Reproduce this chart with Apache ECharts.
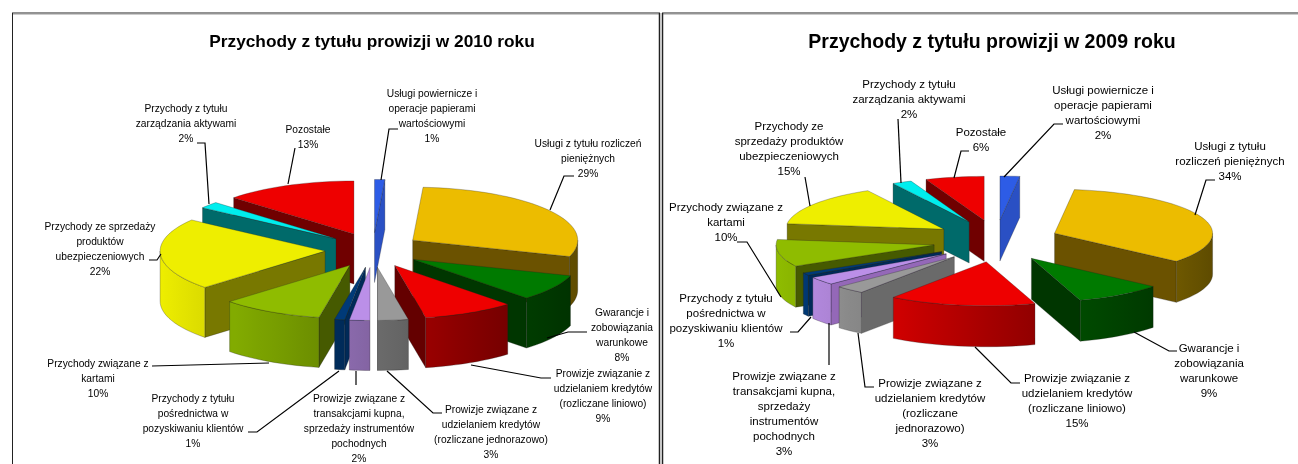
<!DOCTYPE html>
<html>
<head>
<meta charset="utf-8">
<title>Przychody z tytułu prowizji</title>
<style>
html,body{margin:0;padding:0;background:#fff;}
#chart{width:1298px;height:464px;}
</style>
<script src="https://cdn.jsdelivr.net/npm/echarts@6/dist/echarts.min.js"></script>
</head>
<body>
<div id="chart"></div>
<script>
// dane - kolejnosc jak na wykresie, zgodnie z ruchem wskazowek od gory
var values2010=[1,29,8,9,3,2,1,10,22,2,13];
var values2009=[2,34,9,15,3,3,1,10,15,2,6];
var names2010=[
	'Usługi powiernicze i\noperacje papierami\nwartościowymi',
	'Usługi z tytułu rozliczeń\npieniężnych',
	'Gwarancje i\nzobowiązania\nwarunkowe',
	'Prowizje związanie z\nudzielaniem kredytów\n(rozliczane liniowo)',
	'Prowizje związane z\nudzielaniem kredytów\n(rozliczane jednorazowo)',
	'Prowizje związane z\ntransakcjami kupna,\nsprzedaży instrumentów\npochodnych',
	'Przychody z tytułu\npośrednictwa w\npozyskiwaniu klientów',
	'Przychody związane z\nkartami',
	'Przychody ze sprzedaży\nproduktów\nubezpieczeniowych',
	'Przychody z tytułu\nzarządzania aktywami',
	'Pozostałe'
];
var names2009=[
	'Usługi powiernicze i\noperacje papierami\nwartościowymi',
	'Usługi z tytułu\nrozliczeń pieniężnych',
	'Gwarancje i\nzobowiązania\nwarunkowe',
	'Prowizje związanie z\nudzielaniem kredytów\n(rozliczane liniowo)',
	'Prowizje związane z\nudzielaniem kredytów\n(rozliczane\njednorazowo)',
	'Prowizje związane z\ntransakcjami kupna,\nsprzedaży\ninstrumentów\npochodnych',
	'Przychody z tytułu\npośrednictwa w\npozyskiwaniu klientów',
	'Przychody związane z\nkartami',
	'Przychody ze\nsprzedaży produktów\nubezpieczeniowych',
	'Przychody z tytułu\nzarządzania aktywami',
	'Pozostałe'
];
var titles=['Przychody z tytułu prowizji w 2010 roku','Przychody z tytułu prowizji w 2009 roku'];
// [gora, sciana radialna]
var colors=[
	['#2d5ce6','#2a50c4'],
	['#ecbc00','#6b5200'],
	['#007a00','#003600'],
	['#ee0000','#640000'],
	['#999999','#6a6a6a'],
	['#bb8fe8','#9468b8'],
	['#003a78','#002a58'],
	['#8fbc00','#465a00'],
	['#eeee00','#787800'],
	['#00eeee','#006a6a'],
	['#ee0000','#700000']
];

// uklad: srodek, promienie elipsy, wysokosc, wysuniecie wycinkow
var pie2010={cx:373,cy:250,rx:165,ry:53,h:50,ex:48,ey:17.5};
var pie2009={cx:996,cy:241,rx:158,ry:44,h:41,ex:63,ey:21};
// opisy: srodek tekstu, gora tekstu, linia odniesienia
var labels2010=[
	[432,86,[[398,129],[389,129],[381,180]]],
	[588,136,[[574,176],[564,176],[550,210]]],
	[622,305,[[587,332],[568,332],[547,338]]],
	[603,366,[[551,378],[541,378],[471,365]]],
	[491,402,[[442,413],[433,413],[387,371]]],
	[359,391,[[356,385],[356,371]]],
	[193,391,[[248,432],[257,432],[339,371]]],
	[98,356,[[152,366],[269,363]]],
	[100,219,[[149,260],[157,260],[161,254]]],
	[186,101,[[197,143],[205,143],[209,204]]],
	[308,122,[[295,148],[288,184]]]
];
var labels2009=[
	[1103,83,[[1063,124],[1054,124],[1004,177]]],
	[1230,139,[[1215,180],[1206,180],[1195,215]]],
	[1209,341,[[1177,351],[1169,351],[1134,332]]],
	[1077,371,[[1020,383],[1011,383],[975,347]]],
	[930,376,[[874,387],[865,387],[858,333]]],
	[784,369,[[829,365],[829,323]]],
	[726,291,[[790,332],[798,332],[811,317]]],
	[726,200,[[737,242],[747,242],[781,297]]],
	[789,119,[[805,177],[810,206]]],
	[909,77,[[898,119],[901,183]]],
	[981,125,[[969,151],[961,151],[954,178]]]
];

var dom=echarts.init(document.getElementById('chart'));

function shade(hex,k){
	var n=parseInt(hex.slice(1),16);
	var r=Math.min(255,Math.round((n>>16&255)*k)),g=Math.min(255,Math.round((n>>8&255)*k)),b=Math.min(255,Math.round((n&255)*k));
	return 'rgb('+r+','+g+','+b+')';
}
// katy wycinkow policzone z wartosci
function slices(vals){
	var sum=0,arr=[],a=0;
	vals.forEach(function(v){sum+=v;});
	vals.forEach(function(v,i){
		var b=a+v/sum*Math.PI*2;
		arr.push({i:i,a:a,b:b,m:(a+b)/2});
		a=b;
	});
	return arr;
}
function pt(p,ax,ay,t){
	return [ax+p.rx*Math.sin(t),ay-p.ry*Math.cos(t)];
}
// oswietlenie sciany zewnetrznej - jasno z lewej, ciemno z prawej
function light(t){
	return 0.7-0.3*Math.sin(t);
}
function wall(p1,p2,h){
	return [p1,p2,[p2[0],p2[1]+h],[p1[0],p1[1]+h]];
}
var edge={stroke:'rgba(30,30,30,0.55)',lineWidth:0.5};

function pieItem(p,s){
	var ax=p.cx+p.ex*Math.sin(s.m),ay=p.cy-p.ey*Math.cos(s.m);
	var c=colors[s.i],kids=[],A=[ax,ay];
	var top=[A],steps=Math.max(4,Math.ceil((s.b-s.a)/0.05)),k;
	for(k=0;k<=steps;k++){
		top.push(pt(p,ax,ay,s.a+(s.b-s.a)*k/steps));
	}
	var M=pt(p,ax,ay,s.m);
	// sciany radialne - tylko te zwrocone do widza
	[top[1],top[top.length-1]].forEach(function(P){
		var dx=P[0]-ax,dy=P[1]-ay,nx=-dy,ny=dx;
		if(nx*(M[0]-ax)+ny*(M[1]-ay)>0){nx=-nx;ny=-ny;}
		if(ny>0){
			kids.push({type:'polygon',shape:{points:wall(A,P,p.h)},style:{fill:c[1],stroke:edge.stroke,lineWidth:edge.lineWidth}});
		}
	});
	// sciana zewnetrzna
	var a1=Math.max(s.a,Math.PI/2),a2=Math.min(s.b,Math.PI*3/2);
	if(a2>a1){
		var up=[],down=[],stops=[],x0=1e9,x1=-1e9,n=Math.max(4,Math.ceil((a2-a1)/0.05));
		for(k=0;k<=n;k++){
			var t=a1+(a2-a1)*k/n,q=pt(p,ax,ay,t);
			up.push(q);down.unshift([q[0],q[1]+p.h]);
			x0=Math.min(x0,q[0]);x1=Math.max(x1,q[0]);
		}
		for(k=0;k<=n;k+=Math.max(1,Math.floor(n/6))){
			var t2=a1+(a2-a1)*k/n,q2=pt(p,ax,ay,t2);
			stops.push({offset:x1>x0?(q2[0]-x0)/(x1-x0):0,color:shade(c[0],light(t2))});
		}
		stops.sort(function(u,v){return u.offset-v.offset;});
		kids.push({type:'polygon',shape:{points:up.concat(down)},style:{
			fill:new echarts.graphic.LinearGradient(0,0,1,0,stops),stroke:edge.stroke,lineWidth:edge.lineWidth
		}});
	}
	kids.push({type:'polygon',shape:{points:top},style:{fill:c[0],stroke:edge.stroke,lineWidth:edge.lineWidth}});
	return {type:'group',children:kids};
}

function pieSeries(vals,p){
	var arr=slices(vals);
	// od tylu do przodu
	arr.sort(function(u,v){return Math.cos(v.m)-Math.cos(u.m);});
	return {
		type:'custom',
		coordinateSystem:'none',
		silent:true,
		z:2,
		data:arr.map(function(s){return vals[s.i];}),
		renderItem:function(params){
			return pieItem(p,arr[params.dataIndex]);
		}
	};
}
// wykres 2010 ma w oryginale zwezony tekst
function labelSeries(vals,names,layout,sx){
	return {
		type:'custom',
		coordinateSystem:'none',
		silent:true,
		z:3,
		data:vals,
		renderItem:function(params){
			var i=params.dataIndex,l=layout[i];
			return {type:'group',children:[
				{type:'polyline',shape:{points:l[2]},style:{fill:null,stroke:'#000',lineWidth:1.2}},
				{type:'text',x:l[0],y:l[1],scaleX:sx,style:{
					text:names[i]+'\n'+vals[i]+'%',x:0,y:0,align:'center',verticalAlign:'top',
					fill:'#000',font:'11.5px "Liberation Sans", Arial, sans-serif',lineHeight:15
				}}
			]};
		}
	};
}
function frame(x1,x2){
	return [
		{type:'line',shape:{x1:x1,y1:13,x2:x2,y2:13},style:{stroke:'#222',lineWidth:1}},
		{type:'line',shape:{x1:x1,y1:14,x2:x2,y2:14},style:{stroke:'#999',lineWidth:1}}
	];
}

var option={
	animation:false,
	backgroundColor:'#fff',
	title:[
		{text:titles[0],left:367,top:29,textAlign:'center',textStyle:{fontFamily:'"Liberation Sans", Arial, sans-serif',fontWeight:'bold',fontSize:17.3,color:'#000'}},
		{text:titles[1],left:987,top:28,textAlign:'center',textStyle:{fontFamily:'"Liberation Sans", Arial, sans-serif',fontWeight:'bold',fontSize:19.5,color:'#000'}}
	],
	graphic:frame(12,660).concat(frame(662,1298)).concat([
		{type:'line',shape:{x1:12.5,y1:13,x2:12.5,y2:464},style:{stroke:'#222',lineWidth:1}},
		{type:'line',shape:{x1:659.5,y1:13,x2:659.5,y2:464},style:{stroke:'#222',lineWidth:1.5}},
		{type:'line',shape:{x1:662.5,y1:13,x2:662.5,y2:464},style:{stroke:'#222',lineWidth:1.5}}
	]),
	series:[
		pieSeries(values2010,pie2010),
		pieSeries(values2009,pie2009),
		labelSeries(values2010,names2010,labels2010,0.89),
		labelSeries(values2009,names2009,labels2009,1)
	]
};
dom.setOption(option);
</script>
</body>
</html>
